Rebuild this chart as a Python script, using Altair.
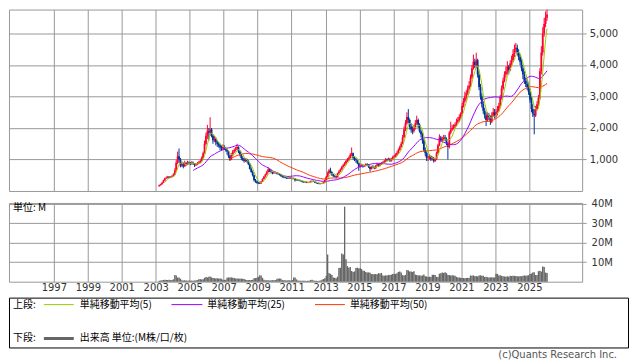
import altair as alt
import pandas as pd

# ---------------- data: monthly candles, Mar 2003 - Jan 2026 ----------------
START = "2003-03-01"

open_ = [
    150, 180, 210, 260, 330, 400, 420, 450, 430, 440,                       # 2003 (Mar-Dec)
    470, 520, 650, 900, 1100, 1000, 800, 850, 780, 880, 850, 900,           # 2004
    880, 860, 900, 870, 820, 850, 880, 900, 950, 1050, 1200, 1500,          # 2005
    1750, 1900, 1850, 1950, 1750, 1600, 1650, 1550, 1500, 1450, 1380, 1350, # 2006
    1400, 1350, 1300, 1250, 1100, 1000, 1150, 1250, 1300, 1350, 1400, 1250, # 2007
    1150, 1050, 1000, 950, 1000, 950, 850, 700, 600, 500, 350, 300,         # 2008
    260, 250, 240, 300, 380, 450, 520, 600, 680, 640, 600, 560,             # 2009
    580, 580, 560, 540, 520, 480, 450, 440, 420, 410, 400, 420,             # 2010
    400, 390, 400, 340, 360, 340, 330, 320, 290, 280, 290, 270,             # 2011
    270, 280, 310, 320, 300, 260, 250, 240, 230, 230, 240, 270,             # 2012
    350, 450, 560, 650, 600, 520, 480, 470, 440, 560, 620, 680,             # 2013
    760, 820, 880, 950, 1000, 1050, 1150, 1200, 1050, 1000, 980, 880,       # 2014
    780, 800, 820, 780, 800, 850, 830, 760, 700, 780, 760, 720,             # 2015
    800, 850, 800, 850, 880, 900, 950, 1000, 980, 1020, 950, 1000,          # 2016
    1080, 1100, 1150, 1200, 1300, 1400, 1500, 1700, 1950, 2150, 2350, 2250, # 2017
    2050, 1950, 1900, 2000, 2150, 2250, 2100, 1900, 1800, 1600, 1300, 1200, # 2018
    1050, 1050, 1100, 1000, 1050, 950, 1000, 1200, 1450, 1700, 1600, 1650, # 2019
    1700, 1650, 1500, 1400, 1850, 1950, 2000, 2050, 2100, 2200, 2250, 2350, # 2020
    2450, 2700, 2850, 3000, 3100, 3250, 3350, 3600, 3900, 4100, 4000, 4150, # 2021
    3700, 3300, 3000, 2750, 2550, 2400, 2250, 2400, 2350, 2200, 2400, 2500, # 2022
    2400, 2500, 2550, 2700, 2950, 3250, 3500, 3700, 3800, 3950, 3850, 4050, # 2023
    4150, 4350, 4500, 4550, 4400, 4250, 4100, 3900, 3700, 3500, 3400, 3300, # 2024
    3150, 2900, 2600, 2450, 2400, 2600, 2750, 2950, 3800, 4400, 5000, 5300, # 2025
    5500,                                                                   # 2026 (Jan)
]
high = [
    200, 230, 280, 360, 420, 460, 480, 470, 470, 500,
    560, 720, 980, 1250, 1350, 1050, 920, 900, 960, 920, 960, 940,
    920, 950, 930, 880, 890, 920, 950, 1000, 1100, 1250, 1600, 1850,
    2100, 2000, 2340, 2000, 1800, 1750, 1700, 1600, 1550, 1500, 1450, 1480,
    1450, 1400, 1350, 1280, 1150, 1200, 1300, 1350, 1400, 1500, 1420, 1300,
    1180, 1100, 1050, 1050, 1030, 980, 880, 750, 650, 520, 380, 320,
    290, 280, 320, 400, 480, 550, 640, 750, 700, 660, 620, 620,
    620, 600, 580, 560, 530, 500, 470, 460, 440, 430, 450, 440,
    420, 430, 410, 380, 370, 360, 350, 330, 300, 310, 300, 290,
    300, 330, 340, 330, 310, 270, 260, 250, 250, 260, 290, 370,
    480, 620, 700, 740, 620, 540, 500, 480, 580, 660, 720, 800,
    860, 920, 980, 1050, 1100, 1200, 1380, 1220, 1100, 1050, 1000, 900,
    840, 860, 850, 830, 880, 880, 850, 780, 800, 820, 780, 830,
    880, 870, 880, 920, 940, 980, 1050, 1030, 1060, 1040, 1050, 1120,
    1150, 1200, 1260, 1350, 1440, 1560, 1780, 2050, 2250, 2500, 2600, 2300,
    2150, 2050, 2100, 2250, 2390, 2300, 2150, 1950, 1850, 1650, 1380, 1250,
    1120, 1170, 1130, 1100, 1080, 1050, 1250, 1500, 1800, 1750, 1720, 1780,
    1780, 1700, 1550, 1900, 2200, 2100, 2120, 2170, 2300, 2350, 2430, 2500,
    2800, 2950, 3150, 3200, 3350, 3490, 3700, 4000, 4330, 4200, 4390, 4200,
    3800, 3400, 3100, 2850, 2640, 2500, 2500, 2480, 2400, 2500, 2640, 2600,
    2600, 2700, 2800, 3050, 3350, 3600, 3800, 3950, 4120, 4000, 4150, 4300,
    4500, 4650, 4700, 4650, 4500, 4350, 4200, 4000, 3800, 3600, 3550, 3450,
    3250, 3000, 2750, 2600, 2700, 2850, 3050, 3900, 4600, 5200, 5500, 5700,
    5800,
]
low = [
    140, 170, 200, 250, 320, 380, 400, 410, 410, 430,
    450, 500, 620, 850, 900, 750, 760, 720, 770, 800, 820, 840,
    820, 830, 830, 760, 790, 820, 850, 880, 930, 1020, 1180, 1450,
    1650, 1600, 1750, 1700, 1500, 1550, 1450, 1400, 1380, 1300, 1280, 1300,
    1300, 1250, 1150, 1050, 950, 980, 1100, 1200, 1250, 1300, 1200, 1100,
    980, 950, 900, 920, 900, 820, 680, 580, 460, 300, 260, 230,
    220, 220, 230, 290, 370, 430, 500, 580, 600, 560, 530, 540,
    550, 530, 510, 490, 450, 420, 410, 400, 380, 380, 390, 380,
    370, 370, 300, 330, 320, 310, 300, 270, 260, 260, 250, 250,
    260, 270, 300, 290, 250, 230, 220, 210, 210, 220, 235, 265,
    340, 430, 530, 560, 480, 440, 430, 400, 430, 540, 600, 660,
    740, 790, 850, 920, 960, 1020, 1100, 1000, 950, 900, 850, 640,
    740, 770, 740, 760, 780, 800, 730, 620, 680, 720, 690, 700,
    780, 760, 780, 830, 860, 880, 920, 940, 960, 920, 930, 980,
    1050, 1060, 1120, 1180, 1280, 1380, 1480, 1680, 1900, 2100, 2150, 1950,
    1850, 1800, 1850, 1950, 2100, 2000, 1850, 1700, 1500, 1250, 1100, 950,
    950, 1000, 950, 970, 900, 920, 980, 1180, 1420, 1550, 1550, 1600,
    1580, 1450, 1000, 1350, 1800, 1900, 1950, 2000, 2050, 2150, 2200, 2300,
    2400, 2650, 2800, 2900, 3050, 3200, 3300, 3550, 3850, 3900, 3900, 3600,
    3200, 2900, 2650, 2450, 2300, 2060, 2200, 2250, 2100, 2150, 2350, 2300,
    2330, 2400, 2500, 2650, 2900, 3200, 3450, 3600, 3700, 3700, 3800, 3950,
    4100, 4250, 4400, 4300, 4150, 4000, 3800, 3550, 3400, 3300, 3200, 3050,
    2800, 2500, 2350, 1800, 2350, 2550, 2700, 2900, 3700, 4300, 4900, 5200,
    5400,
]
close = [
    180, 210, 260, 330, 400, 420, 450, 430, 440, 470,
    520, 650, 900, 1100, 1000, 800, 850, 780, 880, 850, 900, 880,
    860, 900, 870, 820, 850, 880, 900, 950, 1050, 1200, 1500, 1750,
    1900, 1850, 1950, 1750, 1600, 1650, 1550, 1500, 1450, 1380, 1350, 1400,
    1350, 1300, 1250, 1100, 1000, 1150, 1250, 1300, 1350, 1400, 1250, 1150,
    1050, 1000, 950, 1000, 950, 850, 700, 600, 500, 350, 300, 260,
    250, 240, 300, 380, 450, 520, 600, 680, 640, 600, 560, 580,
    580, 560, 540, 520, 480, 450, 440, 420, 410, 400, 420, 400,
    390, 400, 340, 360, 340, 330, 320, 290, 280, 290, 270, 270,
    280, 310, 320, 300, 260, 250, 240, 230, 230, 240, 270, 350,
    450, 560, 650, 600, 520, 480, 470, 440, 560, 620, 680, 760,
    820, 880, 950, 1000, 1050, 1150, 1200, 1050, 1000, 980, 880, 780,
    800, 820, 780, 800, 850, 830, 760, 700, 780, 760, 720, 800,
    850, 800, 850, 880, 900, 950, 1000, 980, 1020, 950, 1000, 1080,
    1100, 1150, 1200, 1300, 1400, 1500, 1700, 1950, 2150, 2350, 2250, 2050,
    1950, 1900, 2000, 2150, 2250, 2100, 1900, 1800, 1600, 1300, 1200, 1050,
    1050, 1100, 1000, 1050, 950, 1000, 1200, 1450, 1700, 1600, 1650, 1700,
    1650, 1500, 1400, 1850, 1950, 2000, 2050, 2100, 2200, 2250, 2350, 2450,
    2700, 2850, 3000, 3100, 3250, 3350, 3600, 3900, 4100, 4000, 4150, 3700,
    3300, 3000, 2750, 2550, 2400, 2250, 2400, 2350, 2200, 2400, 2500, 2400,
    2500, 2550, 2700, 2950, 3250, 3500, 3700, 3800, 3950, 3850, 4050, 4150,
    4350, 4500, 4550, 4400, 4250, 4100, 3900, 3700, 3500, 3400, 3300, 3150,
    2900, 2600, 2450, 2400, 2600, 2750, 2950, 3800, 4400, 5000, 5300, 5500,
    5600,
]
# monthly volume, millions of shares
volume = [
    0.5, 0.6, 0.8, 0.9, 1.0, 0.9, 0.9, 1.0, 0.8, 0.9,
    1.2, 3.5, 3.2, 2.1, 2.2, 1.5, 0.8, 0.6, 0.7, 0.6, 0.5, 0.6,
    0.5, 0.6, 0.5, 0.6, 0.7, 0.8, 1.2, 1.3, 1.1, 1.3, 2.0, 2.4,
    2.2, 2.6, 2.7, 2.2, 1.9, 1.8, 1.7, 1.8, 1.6, 1.7, 1.5, 1.0,
    0.9, 1.0, 2.0, 2.2, 2.1, 2.2, 2.0, 1.9, 1.6, 1.7, 1.6, 1.5,
    1.6, 1.5, 1.4, 1.0, 0.9, 0.8, 0.9, 0.9, 1.0, 1.8, 1.9, 2.0,
    2.5, 3.3, 3.2, 2.0, 1.0, 0.7, 0.8, 0.7, 0.6, 0.7, 0.8, 0.7,
    0.8, 1.2, 1.6, 1.6, 1.5, 0.8, 0.7, 0.7, 0.6, 0.7, 0.7, 0.6,
    0.8, 2.1, 2.2, 1.2, 0.6, 0.5, 0.5, 0.5, 0.5, 0.5, 0.4, 0.5,
    0.5, 0.9, 1.0, 0.6, 0.5, 0.5, 0.4, 0.5, 0.6, 1.0, 1.4, 1.8,
    3.0, 14.0, 4.5, 4.0, 3.5, 2.2, 2.0, 1.8, 2.6, 7.0, 7.2, 14.5,
    14.0, 38.6, 11.5, 8.0, 7.2, 7.5, 5.5, 5.0, 5.3, 7.0, 7.2, 6.8,
    7.0, 6.5, 5.6, 5.6, 5.0, 4.7, 4.8, 4.6, 3.9, 4.0, 3.8, 3.9,
    3.8, 4.4, 4.2, 4.5, 3.2, 3.0, 3.3, 3.2, 3.5, 3.4, 3.6, 4.0,
    4.1, 4.0, 4.3, 5.0, 5.2, 4.7, 3.4, 3.2, 3.5, 6.0, 5.8, 5.2,
    5.3, 5.0, 5.4, 3.6, 3.4, 3.2, 3.3, 3.0, 3.2, 3.7, 2.8, 2.7,
    2.4, 2.6, 2.4, 3.5, 3.6, 3.4, 2.5, 2.4, 4.1, 4.3, 4.7, 4.5,
    4.8, 4.4, 3.4, 3.4, 3.2, 3.3, 3.2, 3.0, 2.5, 2.2, 2.2, 2.0,
    1.9, 1.9, 1.8, 1.9, 2.0, 1.9, 3.2, 3.1, 3.3, 2.8, 2.9, 2.7,
    3.2, 3.3, 3.0, 3.1, 2.4, 2.5, 2.3, 2.2, 2.2, 2.3, 2.2, 2.2,
    4.1, 4.0, 3.2, 3.3, 3.0, 2.8, 2.7, 2.6, 2.8, 2.5, 3.0, 2.9,
    3.1, 3.0, 2.9, 2.8, 2.7, 2.9, 2.8, 3.1, 3.2, 3.0, 3.2, 3.3,
    4.0, 4.2, 4.7, 4.8, 3.4, 3.5, 5.4, 5.6, 5.2, 7.8, 7.6, 4.7,
    4.5,
]

YEAR_TICKS = list(range(1997, 2026, 2))
PRICE_TICKS = [1000, 2000, 3000, 4000, 5000]
VOL_TICKS = [10, 20, 30, 40]

LEGEND_TOP = "上段:"
LEGEND_BOTTOM = "下段:"
MA_LABELS = ["単純移動平均(5)", "単純移動平均(25)", "単純移動平均(50)"]
VOL_LABEL = "出来高 単位:(M株/口/枚)"
UNIT_LABEL = "単位: M"
COPYRIGHT = "(c)Quants Research Inc."

# ---------------- styles ----------------
RED = "#ff0033"
BLUE = "#003399"
MA_COLORS = ["#99cc00", "#9900ff", "#ff3300"]
GRID = "#999999"
TXT = "#333333"
NUM_FONT = "DejaVu Sans"
JP_FONT = "Noto Sans CJK JP"

n = len(close)
dates = pd.date_range(START, periods=n, freq="MS")
df = pd.DataFrame({
    "date": dates,
    "mid": dates + pd.Timedelta(days=15),
    "end": dates + pd.offsets.MonthBegin(1),
    "open": open_, "high": high, "low": low, "close": close, "vol": volume,
})
df["dir"] = ["up" if c >= o else "down" for o, c in zip(df["open"], df["close"])]

xscale = alt.Scale(domain=[alt.DateTime(year=1994, month=5, date=12),
                           alt.DateTime(year=2028, month=2, date=11)])
year_values = [alt.DateTime(year=y, month=1, date=1) for y in YEAR_TICKS]

x_top_axis = alt.Axis(values=year_values, grid=True, gridColor=GRID, gridWidth=1,
                      labels=False, ticks=False, domain=False, title=None)
y_top_axis = alt.Axis(orient="right", values=PRICE_TICKS,
                      labelExpr="format(datum.value, ',')", grid=True,
                      gridColor=GRID, gridWidth=1, tickSize=4, tickColor=GRID,
                      labelPadding=3, labelFontSize=10, labelColor=TXT,
                      labelFont=NUM_FONT, domain=False, title=None)
color_enc = alt.Color("dir:N", scale=alt.Scale(domain=["up", "down"], range=[RED, BLUE]),
                      legend=None)

base = alt.Chart(df)
wick = base.mark_rule(strokeWidth=1, clip=True).encode(
    x=alt.X("mid:T", scale=xscale, axis=x_top_axis),
    y=alt.Y("low:Q", scale=alt.Scale(domain=[0, 5760], nice=False, zero=True), axis=y_top_axis),
    y2="high:Q",
    color=color_enc,
)
body = base.mark_rule(strokeWidth=1.8, clip=True).encode(
    x="mid:T", y="open:Q", y2="close:Q", color=color_enc,
)


def ma_line(win, col):
    return base.transform_window(
        ma="mean(close)", cnt="count()", frame=[-(win - 1), 0], sort=[{"field": "date"}]
    ).transform_filter(f"datum.cnt >= {win}").mark_line(
        color=col, strokeWidth=1, clip=True
    ).encode(x="mid:T", y="ma:Q")


top = alt.layer(
    wick, body,
    ma_line(50, MA_COLORS[2]), ma_line(25, MA_COLORS[1]), ma_line(5, MA_COLORS[0]),
).properties(width=575, height=182)

# ---------------- volume panel + legend ----------------
x_bot_axis = alt.Axis(values=year_values, format="%Y", grid=True, gridColor=GRID, gridWidth=1,
                      ticks=False, domain=False, labelPadding=1, labelFontSize=10,
                      labelColor=TXT, labelFont=NUM_FONT, title=None, labelOverlap=False)
y_vol_axis = alt.Axis(orient="right", values=VOL_TICKS, labelExpr="datum.value + 'M'",
                      grid=True, gridColor=GRID, gridWidth=1, tickSize=4, tickColor=GRID,
                      labelPadding=5, labelFontSize=10, labelColor=TXT, labelFont=NUM_FONT,
                      domain=False, title=None)

vol = alt.Chart(df).mark_rect(color="#666666").encode(
    x=alt.X("date:T", scale=xscale, axis=x_bot_axis),
    x2="end:T",
    y=alt.Y("vol:Q", scale=alt.Scale(domain=[0, 40.5], nice=False), axis=y_vol_axis),
    y2=alt.datum(0),
)

one = pd.DataFrame({"k": [0]})


def text_at(txt, x, y, align="left", font=JP_FONT, color="#000000", baseline="middle"):
    return alt.Chart(one).mark_text(
        text=txt, align=align, baseline=baseline, font=font, fontSize=10, color=color
    ).encode(x=alt.value(x), y=alt.value(y))


def seg(x1, x2, y, col, w):
    return alt.Chart(one).mark_rule(color=col, strokeWidth=w).encode(
        x=alt.value(x1), x2=alt.value(x2), y=alt.value(y)
    )


box = alt.Chart(one).mark_rect(fillOpacity=0, stroke="#000000", strokeWidth=1).encode(
    x=alt.value(0.5), x2=alt.value(621.5), y=alt.value(95.5), y2=alt.value(145.5)
)

legend_layers = [
    box,
    text_at(UNIT_LABEL, 4, 5),
    text_at(LEGEND_TOP, 4, 102),
    seg(35, 65, 102, MA_COLORS[0], 1),
    text_at(MA_LABELS[0], 71, 102),
    seg(163, 194, 102, MA_COLORS[1], 1),
    text_at(MA_LABELS[1], 199, 102),
    seg(307, 337, 102, MA_COLORS[2], 1),
    text_at(MA_LABELS[2], 342, 102),
    text_at(LEGEND_BOTTOM, 4, 136),
    seg(35, 65, 136, "#666666", 3),
    text_at(VOL_LABEL, 71, 136),
    text_at(COPYRIGHT, 610, 156, align="right", font=NUM_FONT, color="#555555",
            baseline="alphabetic"),
]

bottom = alt.layer(vol, *legend_layers).properties(width=575, height=79)

chart = alt.vconcat(top, bottom, spacing=6).properties(
    padding={"left": 0, "top": 0, "right": 0, "bottom": 0}, background="white"
).configure_view(stroke=GRID, strokeWidth=1)

chart.save("out.html", embed_options={"renderer": "svg", "actions": False})
